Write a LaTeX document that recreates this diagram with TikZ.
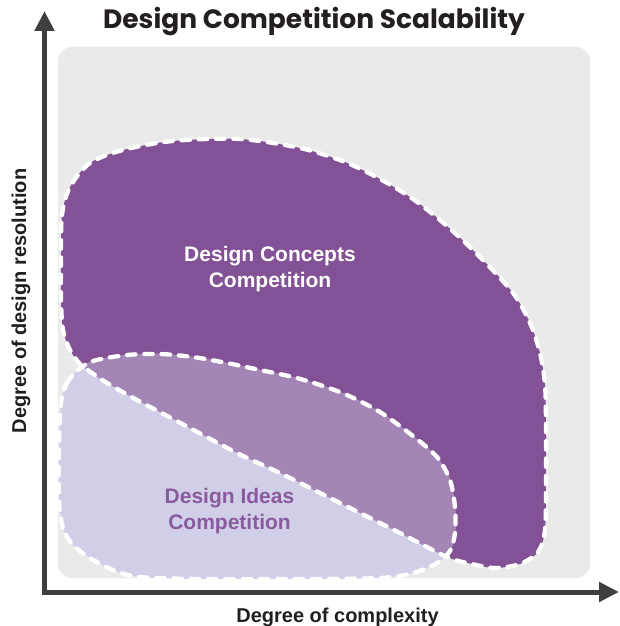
\documentclass[tikz,border=0pt]{standalone}
\usepackage{fontspec}
\setmainfont{Liberation Sans}
\newfontfamily\titlefont{Poppins}
\usetikzlibrary{arrows.meta}

\definecolor{panelgray}{HTML}{EAEAEA}
\definecolor{conceptfill}{HTML}{835195}
\definecolor{overlapfill}{HTML}{A385B6}
\definecolor{ideasfill}{HTML}{D1CFE7}
\definecolor{ideastext}{HTML}{8A5A9E}
\definecolor{axisgray}{HTML}{3F3F3F}
\definecolor{titleink}{HTML}{231F20}

% Outline of the "concepts" region (one unit = one point, y grows downward)
\def\conceptpath{plot[smooth cycle, tension=0.5] coordinates {
  (61,260) (62,215) (70,187) (90,163) (123,150) (173,141) (240,139)
  (300,148) (345,162) (380,179) (413,199) (447,226) (480,257)
  (513,293) (530,323) (540,353) (545,385) (546,425) (546,480)
  (545,530) (538,552) (520,564) (495,568) (472,564) (447,557)
  (400,533) (340,503) (280,473) (237,453) (173,419) (137,400)
  (107,383) (92,373) (80,364) (70,350) (63,330) (61,300)}}

% Outline of the "ideas" region
\def\ideaspath{plot[smooth cycle, tension=0.5] coordinates {
  (62,397) (67,383) (77,371) (93,361) (127,355) (160,354) (193,357)
  (227,363) (260,370) (293,377) (320,385) (347,395) (380,412)
  (413,436) (437,457) (450,480) (455,507) (455,533) (450,551)
  (437,563) (413,573) (380,578) (300,579) (200,579) (140,577)
  (113,570) (90,558) (73,545) (63,528) (59,500) (59,450) (60,415)}}

\tikzset{
  panel/.style={fill=panelgray, rounded corners=14pt},
  regionedge/.style={draw=white, line width=4.3pt, line cap=round,
    dash pattern=on 8.5pt off 8.8pt},
  axisline/.style={draw=axisgray, line width=5pt, line join=miter,
    {Triangle[length=20pt,width=19pt]}-{Triangle[length=20pt,width=19pt]}},
  axislabel/.style={font=\bfseries\fontsize{20}{24}\selectfont, text=black!88},
  regionlabel/.style={font=\bfseries\fontsize{21}{26}\selectfont, align=center},
}

\begin{document}
\begin{tikzpicture}[x=1pt, y=-1pt]
\useasboundingbox (0,0) rectangle (620,626);

% background panel
\path[panel] (58,47) rectangle (590,578);

% filled regions and their overlap
\fill[conceptfill] \conceptpath;
\fill[ideasfill] \ideaspath;
\begin{scope}
  \clip \conceptpath;
  \fill[overlapfill] \ideaspath;
\end{scope}

% dashed white outlines
\path[regionedge] \conceptpath;
\path[regionedge] \ideaspath;

% axes
\coordinate (ytip) at (44.5,11);
\coordinate (origin) at (44.5,592);
\coordinate (xtip) at (619,592);
\draw[axisline] (ytip) -- (origin) -- (xtip);

% texts
\node[font=\titlefont\bfseries\fontsize{26.5}{30}\selectfont, text=titleink]
  (title) at (314,22) {Design Competition Scalability};
\node[axislabel, anchor=base] (xlabel) at (337.5,622) {Degree of complexity};
\node[axislabel, anchor=base, rotate=90] (ylabel) at (26,301) {Degree of design resolution};
\node[regionlabel, text=white] (concepts) at (270,269) {Design Concepts\\Competition};
\node[regionlabel, text=ideastext] (ideas) at (229.5,511) {Design Ideas\\Competition};
\end{tikzpicture}
\end{document}
